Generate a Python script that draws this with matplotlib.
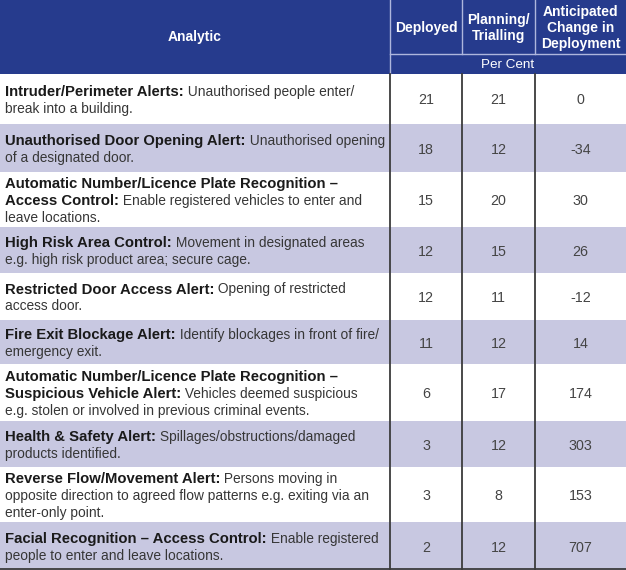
import matplotlib
matplotlib.use("Agg")
import matplotlib.pyplot as plt
from matplotlib.patches import Rectangle

# ---------------- data ----------------
names = [
    "Intruder/Perimeter Alerts",
    "Unauthorised Door Opening Alert",
    "Automatic Number/Licence Plate Recognition –\nAccess Control",
    "High Risk Area Control",
    "Restricted Door Access Alert",
    "Fire Exit Blockage Alert",
    "Automatic Number/Licence Plate Recognition –\nSuspicious Vehicle Alert",
    "Health & Safety Alert",
    "Reverse Flow/Movement Alert",
    "Facial Recognition – Access Control",
]
descriptions = [
    "Unauthorised people enter/\nbreak into a building.",
    "Unauthorised opening\nof a designated door.",
    "Enable registered vehicles to enter and\nleave locations.",
    "Movement in designated areas\ne.g. high risk product area; secure cage.",
    "Opening of restricted\naccess door.",
    "Identify blockages in front of fire/\nemergency exit.",
    "Vehicles deemed suspicious\ne.g. stolen or involved in previous criminal events.",
    "Spillages/obstructions/damaged\nproducts identified.",
    "Persons moving in\nopposite direction to agreed flow patterns e.g. exiting via an\nenter-only point.",
    "Enable registered\npeople to enter and leave locations.",
]
deployed = [21, 18, 15, 12, 12, 11, 6, 3, 3, 2]
planning = [21, 12, 20, 15, 11, 12, 17, 12, 8, 12]
change = [0, -34, 30, 26, -12, 14, 174, 303, 153, 707]
col_headers = ["Analytic", "Deployed", "Planning/\nTrialling", "Anticipated\nChange in\nDeployment"]
unit_label = "Per Cent"

# ---------------- layout ----------------
W, H = 626, 570
col_x = [0, 390, 462, 535, 626]
header_h = 54
unit_h = 74
row_edges = [74, 124, 172, 227, 273, 320, 364, 421, 467, 522, 570]

BLUE = "#263b8d"
LAV = "#c8c8e1"
HDR_LINE = "#aeb6dd"
GRID = "#3c3c3c"
FONT = "Liberation Sans"
FS_BOLD = 10.7
FS_REG = 9.95
FS_NUM = 10.3
HFS = 10.0
LINE_H = 17

fig = plt.figure(figsize=(W / 100, H / 100), dpi=100)
ax = fig.add_axes([0, 0, 1, 1])
ax.set_xlim(0, W)
ax.set_ylim(H, 0)
ax.axis("off")

# header background
ax.add_patch(Rectangle((0, 0), W, unit_h, color=BLUE, lw=0))
# body rows
for i in range(len(names)):
    y0, y1 = row_edges[i], row_edges[i + 1]
    fc = "white" if i % 2 == 0 else LAV
    ax.add_patch(Rectangle((0, y0), W, y1 - y0, color=fc, lw=0))

# header lines (light)
ax.plot([col_x[1], col_x[1]], [0, unit_h], color=HDR_LINE, lw=1.0)
for cx in col_x[2:4]:
    ax.plot([cx, cx], [0, header_h], color=HDR_LINE, lw=1.0)
ax.plot([col_x[1], W], [header_h, header_h], color=HDR_LINE, lw=1.0)

# body lines (dark)
for cx in col_x[1:4]:
    ax.plot([cx, cx], [unit_h, H], color=GRID, lw=1.3)
ax.plot([0, W], [H - 1, H - 1], color=GRID, lw=1.3)

# header texts
ax.text((col_x[0] + col_x[1]) / 2, unit_h / 2, col_headers[0], color="white",
        fontweight="bold", fontsize=HFS, family=FONT, ha="center", va="center")
for j in range(1, 4):
    ax.text((col_x[j] + col_x[j + 1]) / 2, header_h / 2 + 1, col_headers[j], color="white",
            fontweight="bold", fontsize=HFS, family=FONT, ha="center", va="center",
            linespacing=1.2)
ax.text((col_x[1] + col_x[4]) / 2, (header_h + unit_h) / 2 + 1, unit_label, color="white",
        fontsize=HFS - 0.3, family=FONT, ha="center", va="center")

# body texts
fig.canvas.draw()
renderer = fig.canvas.get_renderer()
inv = ax.transData.inverted()


def build_lines(name, desc):
    segs = [(name + ":", True), (" " + desc, False)]
    lines = [[]]
    for txt, bold in segs:
        parts = txt.split("\n")
        for k, p in enumerate(parts):
            if k > 0:
                lines.append([])
            if p:
                lines[-1].append((p.lstrip(" ") if not lines[-1] else p, bold))
    return lines


for i in range(len(names)):
    y0, y1 = row_edges[i], row_edges[i + 1]
    yc = (y0 + y1) / 2
    lines = build_lines(names[i], descriptions[i])
    n = len(lines)
    for k, line in enumerate(lines):
        y = yc + (k - (n - 1) / 2) * LINE_H + 5.5
        x = 5
        for txt, bold in line:
            t = ax.text(x, y, txt, fontsize=FS_BOLD if bold else FS_REG, family=FONT,
                        fontweight="bold" if bold else "normal",
                        color="#1a1a1a" if bold else "#363636",
                        ha="left", va="baseline")
            bb = t.get_window_extent(renderer=renderer)
            x0d = inv.transform((bb.x0, 0))[0]
            x1d = inv.transform((bb.x1, 0))[0]
            x += x1d - x0d
    for j, val in enumerate((deployed[i], planning[i], change[i])):
        ax.text((col_x[j + 1] + col_x[j + 2]) / 2, yc + 5.5, str(val), fontsize=FS_NUM,
                family=FONT, color="#444444", ha="center", va="baseline")

fig.savefig("out.png", dpi=100)
